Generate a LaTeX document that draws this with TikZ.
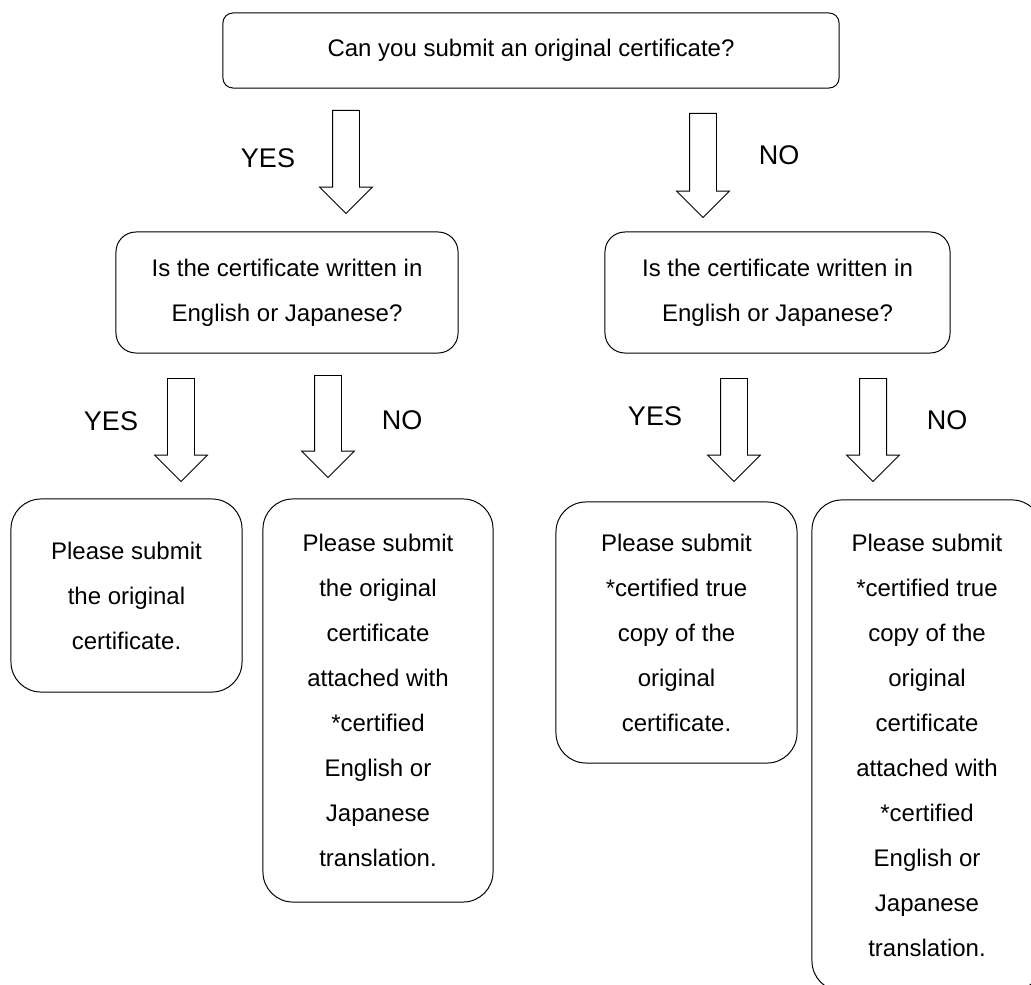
\documentclass[tikz,border=0pt]{standalone}
\usepackage{fontspec}
\setmainfont{Liberation Sans}
\usetikzlibrary{shapes.arrows}

\begin{document}
\begin{tikzpicture}[x=0.025cm,y=-0.025cm,line width=0.7pt,
  font=\fontsize{17.07}{32}\selectfont]

\tikzstyle{qbox}=[draw,rounded corners=0.5cm,align=center,inner sep=0pt]
\tikzstyle{abox}=[qbox,rounded corners=0.75cm,minimum width=5.75cm]
\tikzstyle{downarrow}=[draw,single arrow,rotate=-90,anchor=tail,
  inner xsep=0pt,inner ysep=0.325cm,single arrow head extend=0.325cm,
  minimum height=2.575cm]
\tikzstyle{yesno}=[font=\fontsize{19.2}{23}\selectfont]

\path[use as bounding box,clip] (0,0) rectangle (1031,985);

%% Questions
\node[qbox,rounded corners=0.25cm,minimum width=15.4cm,minimum height=1.875cm]
  (q0) at (531,50.5) {Can you submit an original certificate?};
\node[qbox,minimum width=8.55cm,minimum height=3.025cm]
  (q1) at (287,292.5) {Is the certificate written in\\English or Japanese?};
\node[qbox,minimum width=8.625cm,minimum height=3.025cm]
  (q2) at (777.5,292.5) {Is the certificate written in\\English or Japanese?};

%% Answers
\node[abox,minimum width=5.775cm,minimum height=4.825cm]
  (a1) at (126.5,595.5) {Please submit\\the original\\certificate.};
\node[abox,minimum height=10.075cm]
  (a2) at (378,700.5) {Please submit\\the original\\certificate\\attached with\\*certified\\English or\\Japanese\\translation.};
\node[abox,minimum width=6.025cm,minimum height=6.525cm]
  (a3) at (676.5,632.5) {Please submit\\*certified true\\copy of the\\original\\certificate.};
\node[abox,minimum height=12.275cm]
  (a4) at (927,745.5) {Please submit\\*certified true\\copy of the\\original\\certificate\\attached with\\*certified\\English or\\Japanese\\translation.};

%% Block arrows
\node[downarrow] (q0yes) at (346,110) {};
\node[downarrow,minimum height=2.6cm] (q0no) at (703,113) {};
\node[downarrow] (q1yes) at (181,378) {};
\node[downarrow,minimum height=2.55cm] (q1no) at (328,375) {};
\node[downarrow] (q2yes) at (734,378) {};
\node[downarrow] (q2no) at (873,378) {};

%% Labels
\node[yesno] (l0yes) at (268,158) {YES};
\node[yesno] (l0no) at (779,155) {NO};
\node[yesno] (l1yes) at (111,421) {YES};
\node[yesno] (l1no) at (402,420) {NO};
\node[yesno] (l2yes) at (655,416) {YES};
\node[yesno] (l2no) at (947,420) {NO};

\end{tikzpicture}
\end{document}
